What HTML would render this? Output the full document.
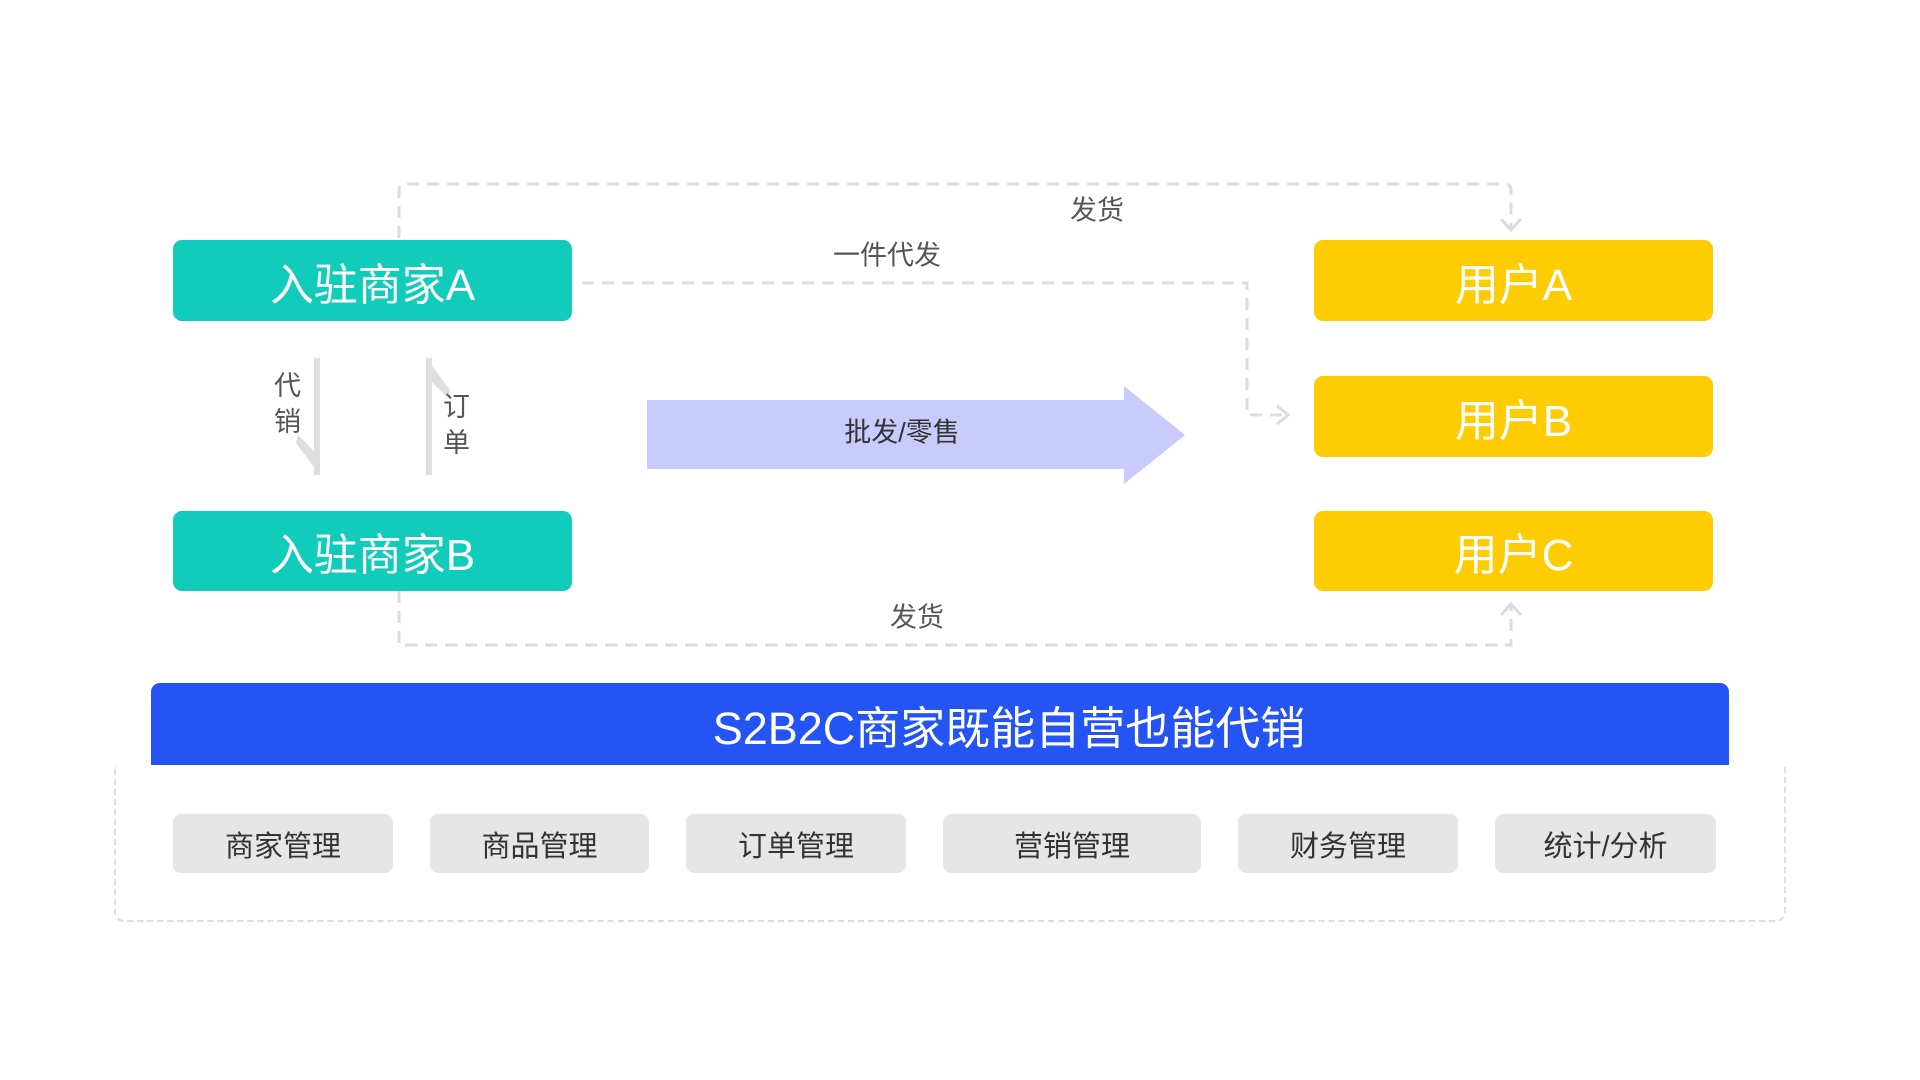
<!DOCTYPE html>
<html><head><meta charset="utf-8"><style>
body{margin:0;width:1920px;height:1080px;background:#fff;position:relative;overflow:hidden;font-family:"Liberation Sans","Noto Sans CJK SC",sans-serif}
.b{position:absolute;display:flex;align-items:center;justify-content:center;color:#fff;font-size:44px;border-radius:9px}
.t{background:#11cbbb}.y{background:#fdcc02}
.l{position:absolute;color:#555;font-size:27px;line-height:1;transform:translate(-50%,-50%);white-space:nowrap}
.v{position:absolute;color:#555;font-size:27px;width:28px;line-height:36px;transform:translate(-50%,0)}
.p{position:absolute;top:814px;height:59px;background:#e6e6e6;border-radius:8px;display:flex;align-items:center;justify-content:center;font-size:29px;color:#333}
</style></head><body>
<svg width="1920" height="1080" style="position:absolute;left:0;top:0">
<g fill="none" stroke="#dcdcdc" stroke-width="3" stroke-dasharray="12,8">
<path d="M399 238 V190 Q399 184 405 184 H1505 Q1511 184 1511 190 V229"/>
<path d="M582 283 H1247 V415 H1285"/>
<path d="M399 591 V645 H1511 V606"/>
</g>
<g fill="none" stroke="#dcdcdc" stroke-width="3">
<path d="M1501 219 L1511 230 L1521 219"/>
<path d="M1277 406 L1288 415 L1277 424"/>
<path d="M1501 615 L1511 604 L1521 615"/>
</g>
<polygon points="647,400 1124,400 1124,386 1185,435 1124,484 1124,469 647,469" fill="#c8cbfb"/>
<g fill="#dedede">
<rect x="314" y="358" width="6" height="117"/>
<polygon points="320,475 320,457 298,435 296,443"/>
<rect x="426" y="358" width="6" height="117"/>
<polygon points="426,358 426,376 448,398 450,390"/>
</g>
</svg>
<div class="b t" style="left:173px;top:240px;width:399px;height:81px">入驻商家A</div>
<div class="b t" style="left:173px;top:511px;width:399px;height:80px">入驻商家B</div>
<div class="b y" style="left:1314px;top:240px;width:399px;height:81px">用户A</div>
<div class="b y" style="left:1314px;top:376px;width:399px;height:81px">用户B</div>
<div class="b y" style="left:1314px;top:511px;width:399px;height:80px">用户C</div>
<div class="l" style="left:1097px;top:211px">发货</div>
<div class="l" style="left:887px;top:256px">一件代发</div>
<div class="l" style="left:917px;top:618px">发货</div>
<div class="v" style="left:288px;top:368px">代销</div>
<div class="v" style="left:457px;top:389px">订单</div>
<div class="l" style="left:902px;top:433px;color:#333">批发/零售</div>
<div style="position:absolute;left:151px;top:683px;width:1578px;height:82px;box-sizing:border-box;padding-left:138px;background:#2554f5;border-radius:9px 9px 0 0;color:#fff;font-size:45px;display:flex;align-items:center;justify-content:center">S2B2C商家既能自营也能代销</div>
<div style="position:absolute;left:114px;top:765px;width:1668px;height:155px;border:2px dashed #ddd;border-top:none;border-radius:0 0 10px 10px"></div>
<div class="p" style="left:173px;width:220px">商家管理</div>
<div class="p" style="left:430px;width:219px">商品管理</div>
<div class="p" style="left:686px;width:220px">订单管理</div>
<div class="p" style="left:943px;width:258px">营销管理</div>
<div class="p" style="left:1238px;width:220px">财务管理</div>
<div class="p" style="left:1495px;width:221px">统计/分析</div>
</body></html>
